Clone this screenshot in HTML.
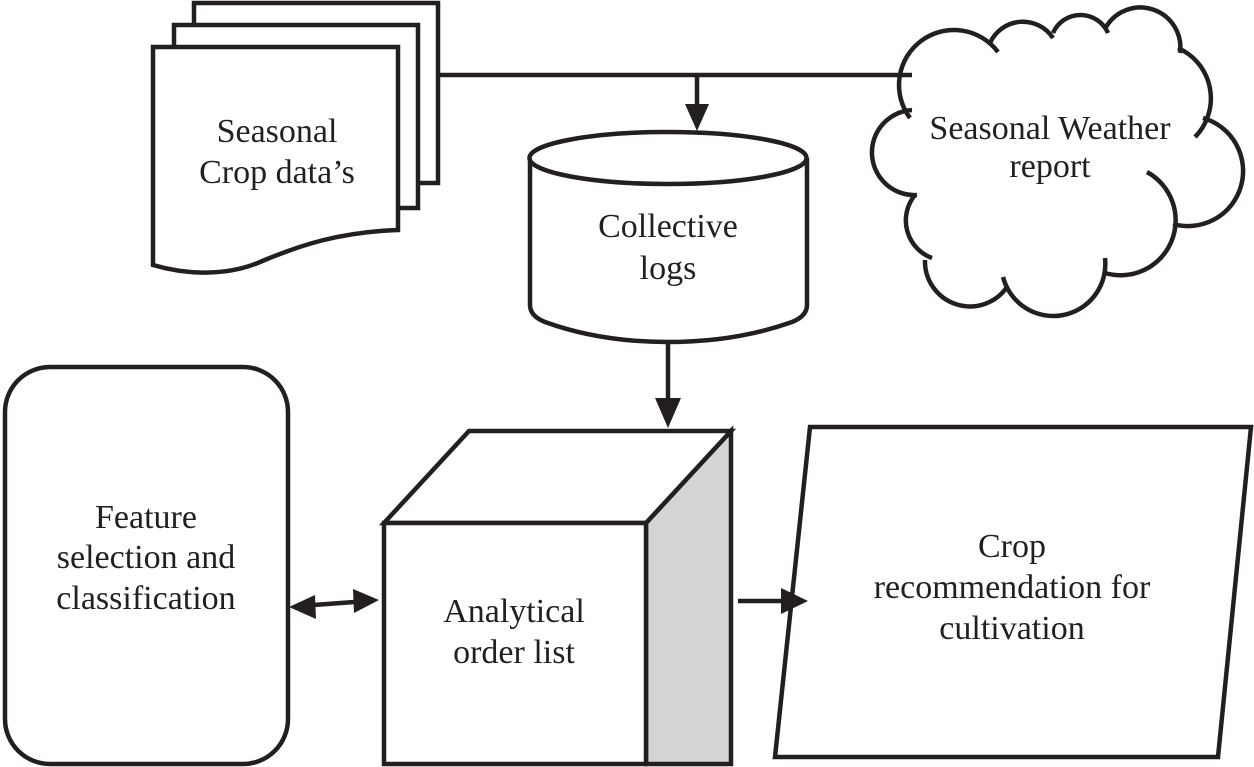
<!DOCTYPE html>
<html><head><meta charset="utf-8"><style>
html,body{margin:0;padding:0;background:#fff;}
svg{display:block;}
text{font-family:"Liberation Serif",serif;font-size:34px;fill:#231f20;text-anchor:middle;}
</style></head><body>
<svg width="1254" height="767" viewBox="0 0 1254 767" xmlns="http://www.w3.org/2000/svg">
<g stroke="#231f20" stroke-width="4.5" fill="none" stroke-linejoin="miter">
<!-- documents -->
<path d="M194,25 V3 H438 V183 H418" fill="#fff"/>
<path d="M174,47 V25 H418 V208 H398" fill="#fff"/>
<path d="M153,47 H398 V230 C340,232 300,245 260,262 C230,275 190,276 153,265 Z" fill="#fff"/>
<!-- connector top -->
<line x1="438" y1="75" x2="912" y2="75"/>
<line x1="697" y1="75" x2="697" y2="108"/>
<!-- cylinder -->
<path d="M530,158 V305 Q530,316 545,322 Q600,342 668,342 Q736,342 792,322 Q807,316 807,305 V158" fill="#fff"/>
<ellipse cx="668" cy="158" rx="138.5" ry="26" fill="#fff"/>
<line x1="668" y1="342" x2="668" y2="400"/>
<!-- cloud -->
<path d="M912,110 L962,40 L1053,30 L1143,20 L1205,100 L1215,160 L1173,230 L1105,270 L1052,316 L970,298 L900,250 L880,150 Z" fill="#fff" stroke="none"/>
<path d="M910,118 A52,52 0 0 1 998,52"/>
<path d="M990,43 A36,36 0 0 1 1053,38"/>
<path d="M1053,33 A30,30 0 0 1 1108,33"/>
<path d="M1106,27 A40,40 0 0 1 1180,53"/>
<path d="M1178,48 A55,55 0 0 1 1195,137"/>
<path d="M1203,118 A45,45 0 0 1 1173,224"/>
<path d="M1147,172 A55,55 0 0 1 1105,273"/>
<path d="M1105,258 A52,52 0 0 1 1003,277"/>
<path d="M1007,287 A45,45 0 0 1 925,260"/>
<path d="M932,258 A40,40 0 0 1 915,195"/>
<path d="M917,195 A40,40 0 0 1 912,110"/>
<!-- rounded rect -->
<rect x="5" y="367" width="283" height="397" rx="45" fill="#fff"/>
<!-- cube -->
<polygon points="646,523 731,431 731,764 646,764" fill="#d3d4d6"/>
<polygon points="384,523 469,431 731,431 646,523" fill="#fff"/>
<rect x="384" y="523" width="262" height="241" fill="#fff"/>
<!-- parallelogram -->
<polygon points="810,427 1251,427 1218,757 775,757" fill="#fff"/>
<!-- arrows -->
<line x1="300" y1="606" x2="368" y2="601"/>
<line x1="738" y1="601" x2="795" y2="601"/>
</g>
<g fill="#231f20">
<polygon points="685,104 709,104 697,131"/>
<polygon points="655,398 681,398 668,428"/>
<polygon points="289,607 315,595 316,619"/>
<polygon points="379,600 353,589 354,613"/>
<polygon points="808,601 781,588 781,614"/>
</g>
<text x="277" y="142">Seasonal</text>
<text x="277" y="183">Crop data’s</text>
<text x="1050" y="139">Seasonal Weather</text>
<text x="1050" y="177">report</text>
<text x="668" y="237">Collective</text>
<text x="668" y="279">logs</text>
<text x="146" y="528">Feature</text>
<text x="146" y="568">selection and</text>
<text x="146" y="609">classification</text>
<text x="514" y="622">Analytical</text>
<text x="514" y="663">order list</text>
<text x="1012" y="557">Crop</text>
<text x="1012" y="598">recommendation for</text>
<text x="1012" y="639">cultivation</text>
</svg>
</body></html>
